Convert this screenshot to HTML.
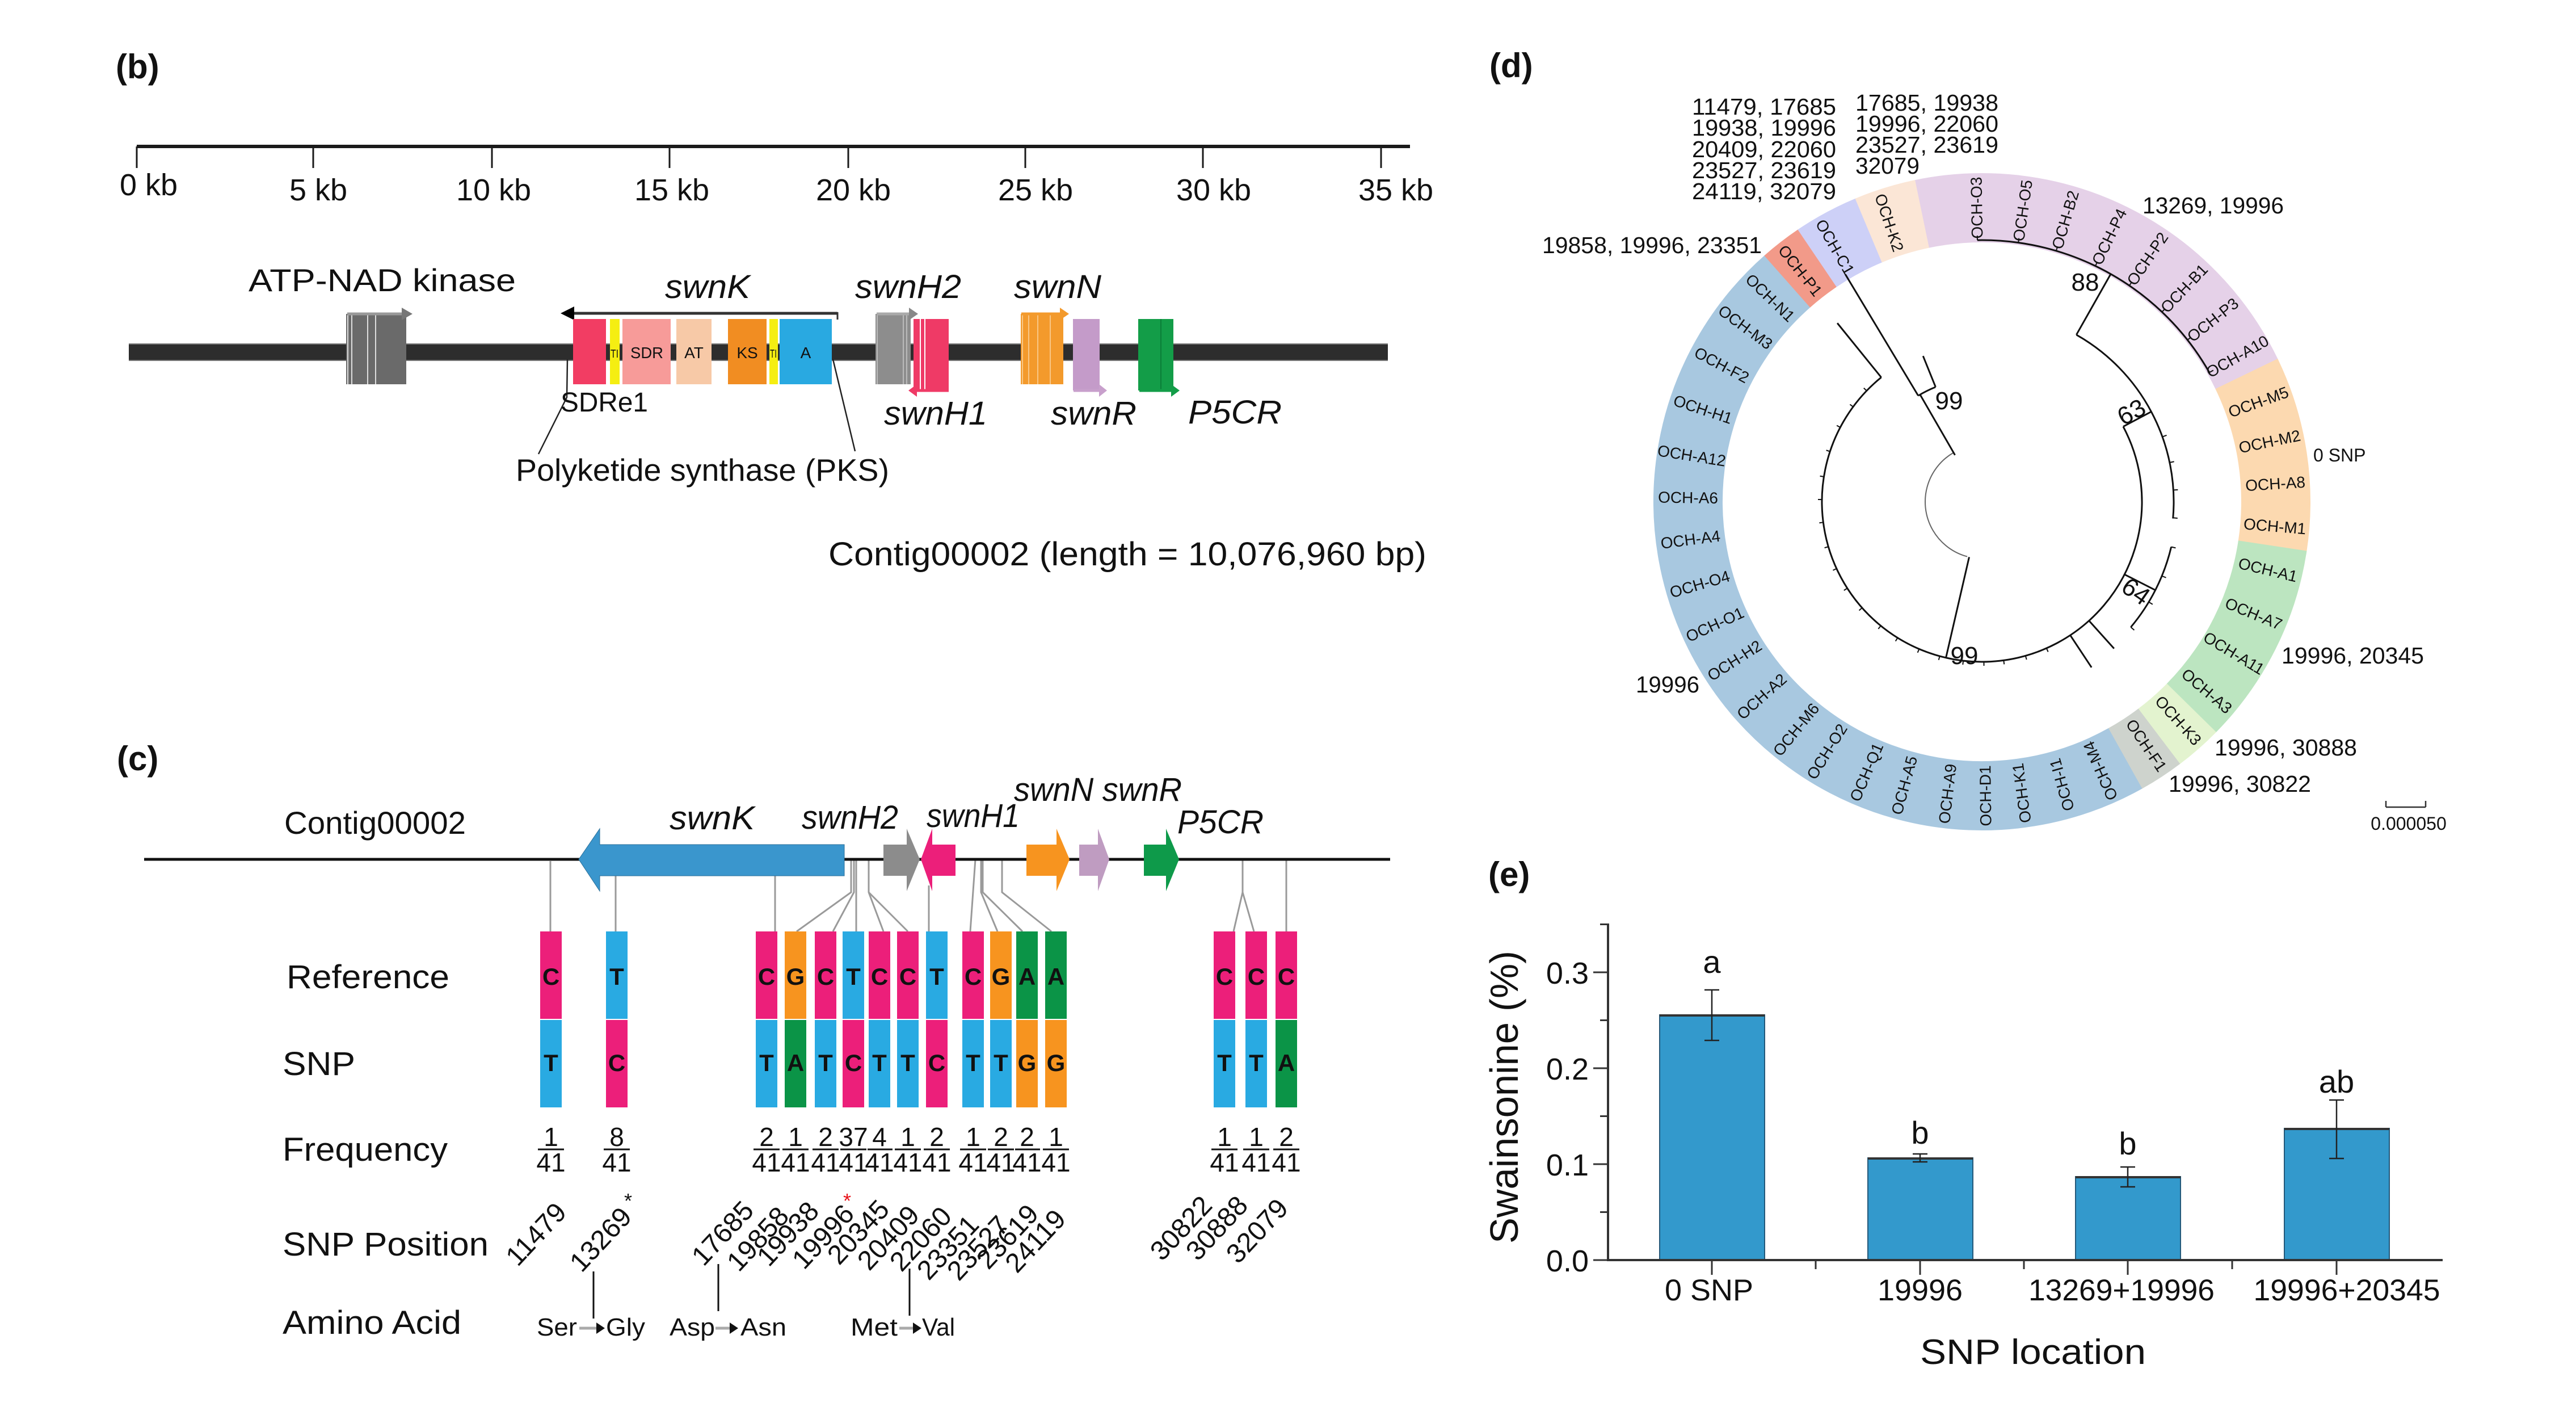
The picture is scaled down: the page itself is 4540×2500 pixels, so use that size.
<!DOCTYPE html>
<html><head><meta charset="utf-8"><style>
html,body{margin:0;padding:0;background:#fff;}
svg{display:block;}
text{font-family:"Liberation Sans",Arial,sans-serif;fill:#111;}
</style></head><body>
<svg xmlns="http://www.w3.org/2000/svg" width="4540" height="2500" viewBox="0 0 4540 2500">
<rect width="4540" height="2500" fill="#fff"/>

<!-- ================= PANEL B ================= -->
<text x="204" y="138" font-size="60" font-weight="bold">(b)</text>
<line x1="241" y1="258" x2="2485" y2="258" stroke="#1a1a1a" stroke-width="6"/>
<g stroke="#1a1a1a" stroke-width="3">
<line x1="241" y1="258" x2="241" y2="296"/><line x1="552" y1="258" x2="552" y2="296"/>
<line x1="867" y1="258" x2="867" y2="296"/><line x1="1180" y1="258" x2="1180" y2="296"/>
<line x1="1495" y1="258" x2="1495" y2="296"/><line x1="1807" y1="258" x2="1807" y2="296"/>
<line x1="2120" y1="258" x2="2120" y2="296"/><line x1="2434" y1="258" x2="2434" y2="296"/>
</g>
<g font-size="54" text-anchor="middle">
<text x="262" y="344">0 kb</text><text x="561" y="353">5 kb</text>
<text x="870" y="353">10 kb</text><text x="1184" y="353">15 kb</text>
<text x="1504" y="353">20 kb</text><text x="1825" y="353">25 kb</text>
<text x="2139" y="353">30 kb</text><text x="2460" y="353">35 kb</text>
</g>
<!-- track -->
<rect x="227" y="606" width="2219" height="29" fill="#2d2d2d"/>
<line x1="227" y1="606" x2="2446" y2="606" stroke="#777" stroke-width="2"/>
<line x1="227" y1="635" x2="2446" y2="635" stroke="#777" stroke-width="2"/>
<!-- ATP-NAD kinase block -->
<rect x="610" y="553" width="106" height="124" fill="#6a6a6a"/>
<g stroke="#ddd" stroke-width="2"><line x1="613" y1="553" x2="613" y2="677"/><line x1="620" y1="553" x2="620" y2="677"/><line x1="648" y1="553" x2="648" y2="677"/><line x1="662" y1="553" x2="662" y2="677"/></g>
<line x1="612" y1="553" x2="710" y2="553" stroke="#999" stroke-width="5"/>
<polygon points="708,542 727,553 708,564" fill="#777"/>
<!-- PKS swnK -->
<line x1="1010" y1="552" x2="1476" y2="552" stroke="#333" stroke-width="5"/>
<polygon points="1012,540 988,552 1012,564" fill="#000"/>
<line x1="1476" y1="550" x2="1476" y2="563" stroke="#333" stroke-width="3"/>
<rect x="1010" y="562" width="58" height="115" fill="#f23d63"/>
<rect x="1075" y="562" width="17" height="115" fill="#f5ee12"/>
<rect x="1097" y="562" width="85" height="115" fill="#f79b99"/>
<rect x="1192" y="562" width="62" height="115" fill="#f7c9a7"/>
<rect x="1283" y="562" width="68" height="115" fill="#f18d22"/>
<rect x="1356" y="562" width="15" height="115" fill="#f5ee12"/>
<rect x="1374" y="562" width="92" height="115" fill="#29a9e1"/>
<g font-size="28" text-anchor="middle" fill="#333">
<text x="1083" y="630" font-size="20" textLength="14" lengthAdjust="spacingAndGlyphs">TI</text>
<text x="1140" y="631" textLength="58" lengthAdjust="spacingAndGlyphs">SDR</text>
<text x="1223" y="631">AT</text>
<text x="1317" y="631">KS</text>
<text x="1363" y="630" font-size="20" textLength="12" lengthAdjust="spacingAndGlyphs">TI</text>
<text x="1420" y="631">A</text>
</g>
<!-- swnH2 gray -->
<rect x="1543" y="553" width="62" height="124" fill="#8d8d8d"/>
<g stroke="#bbb" stroke-width="2"><line x1="1546" y1="553" x2="1546" y2="677"/><line x1="1592" y1="553" x2="1592" y2="677"/><line x1="1598" y1="553" x2="1598" y2="677"/></g>
<line x1="1545" y1="553" x2="1605" y2="553" stroke="#aaa" stroke-width="5"/>
<polygon points="1602,542 1618,553 1602,564" fill="#888"/>
<!-- swnH1 red -->
<rect x="1610" y="562" width="62" height="126" fill="#ef3a66"/>
<g stroke="#fff" stroke-width="2"><line x1="1622" y1="562" x2="1622" y2="688"/><line x1="1630" y1="562" x2="1630" y2="688"/></g>
<line x1="1612" y1="688" x2="1672" y2="688" stroke="#ef3a66" stroke-width="5"/>
<polygon points="1616,677 1601,688 1616,699" fill="#ef3a66"/>
<!-- swnN orange -->
<rect x="1799" y="553" width="75" height="124" fill="#f39a2c"/>
<g stroke="#f9c685" stroke-width="2"><line x1="1802" y1="553" x2="1802" y2="677"/><line x1="1813" y1="553" x2="1813" y2="677"/><line x1="1829" y1="553" x2="1829" y2="677"/><line x1="1851" y1="553" x2="1851" y2="677"/></g>
<line x1="1800" y1="553" x2="1870" y2="553" stroke="#f39a2c" stroke-width="5"/>
<polygon points="1868,542 1884,553 1868,564" fill="#f39a2c"/>
<!-- swnR purple -->
<rect x="1891" y="562" width="47" height="126" fill="#c49bc9"/>
<line x1="1892" y1="688" x2="1940" y2="688" stroke="#c8a0cc" stroke-width="5"/>
<polygon points="1937,677 1951,688 1937,699" fill="#c8a0cc"/>
<!-- P5CR green -->
<rect x="2006" y="562" width="62" height="126" fill="#139d48"/>
<line x1="2046" y1="562" x2="2046" y2="688" stroke="#0b7d38" stroke-width="2"/>
<line x1="2008" y1="688" x2="2066" y2="688" stroke="#139d48" stroke-width="5"/>
<polygon points="2064,677 2079,688 2064,699" fill="#139d48"/>
<!-- SDRe1 lines -->
<polyline points="1000,633 999,700 949,800" fill="none" stroke="#222" stroke-width="2.5"/>
<polyline points="1468,633 1507,795" fill="none" stroke="#222" stroke-width="2.5"/>
<!-- labels -->
<text x="438" y="513" font-size="56" textLength="471" lengthAdjust="spacingAndGlyphs">ATP-NAD kinase</text>
<g font-style="italic" font-size="58">
<text x="1172" y="525" textLength="150" lengthAdjust="spacingAndGlyphs">swnK</text>
<text x="1507" y="525" textLength="187" lengthAdjust="spacingAndGlyphs">swnH2</text>
<text x="1787" y="525" textLength="154" lengthAdjust="spacingAndGlyphs">swnN</text>
<text x="1558" y="748" textLength="182" lengthAdjust="spacingAndGlyphs">swnH1</text>
<text x="1852" y="748" textLength="151" lengthAdjust="spacingAndGlyphs">swnR</text>
<text x="2094" y="746" textLength="165" lengthAdjust="spacingAndGlyphs">P5CR</text>
</g>
<text x="988" y="725" font-size="48" textLength="154" lengthAdjust="spacingAndGlyphs">SDRe1</text>
<text x="909" y="847" font-size="55" textLength="658" lengthAdjust="spacingAndGlyphs">Polyketide synthase (PKS)</text>
<text x="1460" y="996" font-size="58" textLength="1054" lengthAdjust="spacingAndGlyphs">Contig00002 (length = 10,076,960 bp)</text>

<!-- ================= PANEL C ================= -->
<text x="206" y="1357" font-size="60" font-weight="bold">(c)</text>
<text x="501" y="1469" font-size="56" textLength="320" lengthAdjust="spacingAndGlyphs">Contig00002</text>
<!-- connector lines -->
<g stroke="#9a9a9a" stroke-width="3" fill="none">
<line x1="970" y1="1517" x2="970" y2="1641"/>
<line x1="1085" y1="1543" x2="1085" y2="1641"/>
<line x1="1366" y1="1543" x2="1366" y2="1641"/>
<polyline points="1500,1514 1500,1572 1404,1641"/>
<polyline points="1505,1514 1505,1572 1468,1641"/>
<line x1="1509" y1="1514" x2="1509" y2="1641"/>
<polyline points="1531,1514 1531,1572 1557,1641"/>
<polyline points="1531,1572 1600,1641"/>
<line x1="1637" y1="1560" x2="1637" y2="1641"/>
<polyline points="1719,1514 1710,1641"/>
<polyline points="1729,1514 1729,1572 1758,1641"/>
<polyline points="1732,1514 1732,1572 1802,1641"/>
<polyline points="1766,1514 1766,1572 1853,1641"/>
<polyline points="2190,1514 2190,1572 2174,1641"/>
<polyline points="2190,1572 2210,1641"/>
<line x1="2267" y1="1514" x2="2267" y2="1641"/>
</g>
<line x1="254" y1="1514" x2="2450" y2="1514" stroke="#111" stroke-width="5"/>
<polygon points="1020,1514 1057,1460 1057,1488 1488,1488 1488,1543 1057,1543 1057,1570" fill="#3a96cd" stroke="#2a6f99" stroke-width="1"/>
<polygon points="1557,1488 1598,1488 1598,1460 1621,1514 1598,1570 1598,1543 1557,1543" fill="#8c8c8c"/>
<polygon points="1623,1514 1643,1460 1643,1488 1684,1488 1684,1543 1643,1543 1643,1570" fill="#ec1f7a"/>
<polygon points="1809,1488 1862,1488 1862,1460 1885,1514 1862,1570 1862,1543 1809,1543" fill="#f7941f"/>
<polygon points="1902,1488 1935,1488 1935,1460 1955,1514 1935,1570 1935,1543 1902,1543" fill="#bf9cc1"/>
<polygon points="2016,1488 2055,1488 2055,1460 2078,1514 2055,1570 2055,1543 2016,1543" fill="#0e9a4a"/>
<g font-style="italic" font-size="58">
<text x="1180" y="1461" textLength="150" lengthAdjust="spacingAndGlyphs">swnK</text>
<text x="1413" y="1460" textLength="170" lengthAdjust="spacingAndGlyphs">swnH2</text>
<text x="1633" y="1457" textLength="164" lengthAdjust="spacingAndGlyphs">swnH1</text>
<text x="1787" y="1411" textLength="296" lengthAdjust="spacingAndGlyphs">swnN swnR</text>
<text x="2075" y="1468" textLength="152" lengthAdjust="spacingAndGlyphs">P5CR</text>
</g>
<g font-size="58">
<text x="505" y="1741" textLength="287" lengthAdjust="spacingAndGlyphs">Reference</text>
<text x="498" y="1894" textLength="128" lengthAdjust="spacingAndGlyphs">SNP</text>
<text x="498" y="2045" textLength="291" lengthAdjust="spacingAndGlyphs">Frequency</text>
<text x="498" y="2212" textLength="363" lengthAdjust="spacingAndGlyphs">SNP Position</text>
<text x="498" y="2350" textLength="315" lengthAdjust="spacingAndGlyphs">Amino Acid</text>
</g>
<!-- boxes -->
<g>
<rect x="952" y="1641" width="38" height="154" fill="#ec1f7a"/><rect x="952" y="1797" width="38" height="154" fill="#29aae2"/>
<rect x="1068" y="1641" width="38" height="154" fill="#29aae2"/><rect x="1068" y="1797" width="38" height="154" fill="#ec1f7a"/>
<rect x="1332" y="1641" width="38" height="154" fill="#ec1f7a"/><rect x="1332" y="1797" width="38" height="154" fill="#29aae2"/>
<rect x="1383" y="1641" width="38" height="154" fill="#f7941f"/><rect x="1383" y="1797" width="38" height="154" fill="#0b9447"/>
<rect x="1436" y="1641" width="38" height="154" fill="#ec1f7a"/><rect x="1436" y="1797" width="38" height="154" fill="#29aae2"/>
<rect x="1485" y="1641" width="38" height="154" fill="#29aae2"/><rect x="1485" y="1797" width="38" height="154" fill="#ec1f7a"/>
<rect x="1531" y="1641" width="38" height="154" fill="#ec1f7a"/><rect x="1531" y="1797" width="38" height="154" fill="#29aae2"/>
<rect x="1581" y="1641" width="38" height="154" fill="#ec1f7a"/><rect x="1581" y="1797" width="38" height="154" fill="#29aae2"/>
<rect x="1632" y="1641" width="38" height="154" fill="#29aae2"/><rect x="1632" y="1797" width="38" height="154" fill="#ec1f7a"/>
<rect x="1696" y="1641" width="38" height="154" fill="#ec1f7a"/><rect x="1696" y="1797" width="38" height="154" fill="#29aae2"/>
<rect x="1745" y="1641" width="38" height="154" fill="#f7941f"/><rect x="1745" y="1797" width="38" height="154" fill="#29aae2"/>
<rect x="1791" y="1641" width="38" height="154" fill="#0b9447"/><rect x="1791" y="1797" width="38" height="154" fill="#f7941f"/>
<rect x="1842" y="1641" width="38" height="154" fill="#0b9447"/><rect x="1842" y="1797" width="38" height="154" fill="#f7941f"/>
<rect x="2139" y="1641" width="38" height="154" fill="#ec1f7a"/><rect x="2139" y="1797" width="38" height="154" fill="#29aae2"/>
<rect x="2195" y="1641" width="38" height="154" fill="#ec1f7a"/><rect x="2195" y="1797" width="38" height="154" fill="#29aae2"/>
<rect x="2248" y="1641" width="38" height="154" fill="#ec1f7a"/><rect x="2248" y="1797" width="38" height="154" fill="#0b9447"/>
</g>
<g font-size="42" font-weight="bold" text-anchor="middle">
<text x="971" y="1735">C</text><text x="971" y="1887">T</text>
<text x="1087" y="1735">T</text><text x="1087" y="1887">C</text>
<text x="1351" y="1735">C</text><text x="1351" y="1887">T</text>
<text x="1402" y="1735">G</text><text x="1402" y="1887">A</text>
<text x="1455" y="1735">C</text><text x="1455" y="1887">T</text>
<text x="1504" y="1735">T</text><text x="1504" y="1887">C</text>
<text x="1550" y="1735">C</text><text x="1550" y="1887">T</text>
<text x="1600" y="1735">C</text><text x="1600" y="1887">T</text>
<text x="1651" y="1735">T</text><text x="1651" y="1887">C</text>
<text x="1715" y="1735">C</text><text x="1715" y="1887">T</text>
<text x="1764" y="1735">G</text><text x="1764" y="1887">T</text>
<text x="1810" y="1735">A</text><text x="1810" y="1887">G</text>
<text x="1861" y="1735">A</text><text x="1861" y="1887">G</text>
<text x="2158" y="1735">C</text><text x="2158" y="1887">T</text>
<text x="2214" y="1735">C</text><text x="2214" y="1887">T</text>
<text x="2267" y="1735">C</text><text x="2267" y="1887">A</text>
</g>
<!-- fractions -->
<g font-size="46" text-anchor="middle">
<text x="971" y="2019">1</text><text x="1087" y="2019">8</text>
<text x="1351" y="2019">2</text><text x="1402" y="2019">1</text><text x="1455" y="2019">2</text>
<text x="1504" y="2019">37</text><text x="1550" y="2019">4</text><text x="1600" y="2019">1</text>
<text x="1651" y="2019">2</text><text x="1715" y="2019">1</text><text x="1764" y="2019">2</text>
<text x="1810" y="2019">2</text><text x="1861" y="2019">1</text>
<text x="2158" y="2019">1</text><text x="2214" y="2019">1</text><text x="2267" y="2019">2</text>
<text x="971" y="2064">41</text><text x="1087" y="2064">41</text>
<text x="1351" y="2064">41</text><text x="1402" y="2064">41</text><text x="1455" y="2064">41</text>
<text x="1504" y="2064">41</text><text x="1550" y="2064">41</text><text x="1600" y="2064">41</text>
<text x="1651" y="2064">41</text><text x="1715" y="2064">41</text><text x="1764" y="2064">41</text>
<text x="1810" y="2064">41</text><text x="1861" y="2064">41</text>
<text x="2158" y="2064">41</text><text x="2214" y="2064">41</text><text x="2267" y="2064">41</text>
</g>
<g stroke="#111" stroke-width="3">
<line x1="948" y1="2025" x2="994" y2="2025"/><line x1="1064" y1="2025" x2="1110" y2="2025"/>
<line x1="1328" y1="2025" x2="1374" y2="2025"/><line x1="1379" y1="2025" x2="1425" y2="2025"/>
<line x1="1432" y1="2025" x2="1478" y2="2025"/><line x1="1481" y1="2025" x2="1527" y2="2025"/>
<line x1="1529" y1="2025" x2="1573" y2="2025"/><line x1="1577" y1="2025" x2="1623" y2="2025"/>
<line x1="1628" y1="2025" x2="1674" y2="2025"/><line x1="1692" y1="2025" x2="1738" y2="2025"/>
<line x1="1741" y1="2025" x2="1787" y2="2025"/><line x1="1789" y1="2025" x2="1833" y2="2025"/>
<line x1="1838" y1="2025" x2="1884" y2="2025"/>
<line x1="2135" y1="2025" x2="2181" y2="2025"/><line x1="2191" y1="2025" x2="2237" y2="2025"/>
<line x1="2244" y1="2025" x2="2290" y2="2025"/>
</g>
<!-- SNP positions -->
<g font-size="48" text-anchor="end">
<text transform="translate(1001,2138) rotate(-47)">11479</text>
<text transform="translate(1116,2146) rotate(-47)">13269</text>
<text transform="translate(1331,2135) rotate(-47)">17685</text>
<text transform="translate(1393,2145) rotate(-47)">19858</text>
<text transform="translate(1446,2136) rotate(-47)">19938</text>
<text transform="translate(1508,2141) rotate(-47)">19996</text>
<text transform="translate(1570,2133) rotate(-47)">20345</text>
<text transform="translate(1623,2143) rotate(-47)">20409</text>
<text transform="translate(1680,2145) rotate(-47)">22060</text>
<text transform="translate(1728,2160) rotate(-47)">23351</text>
<text transform="translate(1781,2161) rotate(-47)">23527</text>
<text transform="translate(1833,2141) rotate(-47)">23619</text>
<text transform="translate(1881,2150) rotate(-47)">24119</text>
<text transform="translate(2139,2126) rotate(-47)">30822</text>
<text transform="translate(2202,2126) rotate(-47)">30888</text>
<text transform="translate(2273,2131) rotate(-47)">32079</text>
</g>
<text x="1100" y="2128" font-size="36">*</text>
<text x="1486" y="2128" font-size="36" style="fill:#e8141b">*</text>
<!-- amino acid -->
<g stroke="#111" stroke-width="3">
<line x1="1046" y1="2240" x2="1046" y2="2323"/>
<line x1="1266" y1="2227" x2="1266" y2="2310"/>
<line x1="1603" y1="2235" x2="1603" y2="2318"/>
</g>
<g font-size="44">
<text x="946" y="2353" textLength="71" lengthAdjust="spacingAndGlyphs">Ser</text>
<text x="1068" y="2353" textLength="69" lengthAdjust="spacingAndGlyphs">Gly</text>
<text x="1180" y="2353" textLength="80" lengthAdjust="spacingAndGlyphs">Asp</text>
<text x="1305" y="2353" textLength="81" lengthAdjust="spacingAndGlyphs">Asn</text>
<text x="1499" y="2353" textLength="83" lengthAdjust="spacingAndGlyphs">Met</text>
<text x="1625" y="2353" textLength="58" lengthAdjust="spacingAndGlyphs">Val</text>
</g>
<g stroke="#aaa" stroke-width="5">
<line x1="1021" y1="2340" x2="1053" y2="2340"/>
<line x1="1261" y1="2340" x2="1288" y2="2340"/>
<line x1="1585" y1="2340" x2="1611" y2="2340"/>
</g>
<polygon points="1051,2330 1066,2340 1051,2350" fill="#111"/>
<polygon points="1286,2330 1301,2340 1286,2350" fill="#111"/>
<polygon points="1609,2330 1624,2340 1609,2350" fill="#111"/>

<!-- ================= PANEL D ================= -->
<text x="2625" y="136" font-size="60" font-weight="bold">(d)</text>
<g transform="translate(3493,884)">
  <!-- ring segments r=518 width 122 ; per degree 9.0408 -->
  <g fill="none" stroke-width="122">
    <circle r="518" stroke="#e5d1e8" stroke-dasharray="688 5000" transform="rotate(-101.8)"/>
    <circle r="518" stroke="#fcd9b0" stroke-dasharray="312 5000" transform="rotate(-25.8)"/>
    <circle r="518" stroke="#bce5c0" stroke-dasharray="325 5000" transform="rotate(8.6)"/>
    <circle r="518" stroke="#e3f3cf" stroke-dasharray="77 5000" transform="rotate(44.5)"/>
    <circle r="518" stroke="#ced3cd" stroke-dasharray="72 5000" transform="rotate(52.9)"/>
    <circle r="518" stroke="#a8c8e0" stroke-dasharray="1517 5000" transform="rotate(60.8)"/>
    <circle r="518" stroke="#f29a89" stroke-dasharray="68 5000" transform="rotate(228.5)"/>
    <circle r="518" stroke="#cdd0f7" stroke-dasharray="104 5000" transform="rotate(235.9)"/>
    <circle r="518" stroke="#fbe6d6" stroke-dasharray="99 5000" transform="rotate(247.3)"/>
  </g>
  <!-- tree -->
  <circle r="100" fill="none" stroke="#666" stroke-width="2" stroke-dasharray="235.6 5000" transform="rotate(105)"/>
  <g fill="none" stroke="#111" stroke-width="3">
    <circle r="218" stroke-dasharray="34.2 5000" transform="rotate(-121)"/>
    <circle r="282" stroke-dasharray="1274.8 5000" transform="rotate(-28)"/>
    <circle r="338" stroke-dasharray="386.4 5000" transform="rotate(-60.5)"/>
    <circle r="461" stroke-dasharray="494 5000" transform="rotate(-91)"/>
    <circle r="343" stroke-dasharray="159.8 5000" transform="rotate(13.4)"/>
    <line x1="0" y1="-95" x2="0" y2="-218" transform="rotate(-30)"/>
    <line x1="0" y1="-218" x2="0" y2="-467" transform="rotate(-31)"/>
    <line x1="0" y1="-218" x2="0" y2="-277" transform="rotate(-22)"/>
    <line x1="0" y1="-100" x2="0" y2="-282" transform="rotate(193)"/>
    <line x1="0" y1="-282" x2="0" y2="-405" transform="rotate(321)"/>
    <line x1="0" y1="-282" x2="0" y2="-338" transform="rotate(62)"/>
    <line x1="0" y1="-338" x2="0" y2="-461" transform="rotate(29.5)"/>
    <line x1="0" y1="-282" x2="0" y2="-343" transform="rotate(117)"/>
    <line x1="0" y1="-282" x2="0" y2="-348" transform="rotate(138)"/>
    <line x1="0" y1="-282" x2="0" y2="-350" transform="rotate(146.5)"/>
  </g>
  <g stroke="#111" stroke-width="2">
    <line y1="-461" y2="-469" transform="rotate(-1)"/><line y1="-461" y2="-469" transform="rotate(8)"/>
    <line y1="-461" y2="-469" transform="rotate(16.5)"/><line y1="-461" y2="-469" transform="rotate(25.7)"/>
    <line y1="-461" y2="-469" transform="rotate(34.3)"/><line y1="-461" y2="-469" transform="rotate(43.5)"/>
    <line y1="-461" y2="-469" transform="rotate(51.8)"/><line y1="-461" y2="-469" transform="rotate(60.4)"/>
    <line y1="-338" y2="-346" transform="rotate(70.2)"/><line y1="-338" y2="-346" transform="rotate(78.2)"/>
    <line y1="-338" y2="-346" transform="rotate(86.5)"/><line y1="-338" y2="-346" transform="rotate(94.8)"/>
    <line y1="-343" y2="-351" transform="rotate(103.4)"/><line y1="-343" y2="-351" transform="rotate(112.4)"/>
    <line y1="-343" y2="-351" transform="rotate(121)"/><line y1="-343" y2="-351" transform="rotate(130.1)"/>
    <line y1="-282" y2="-289" transform="rotate(156.2)"/><line y1="-282" y2="-289" transform="rotate(164.2)"/>
    <line y1="-282" y2="-289" transform="rotate(172.2)"/><line y1="-282" y2="-289" transform="rotate(179.3)"/>
    <line y1="-282" y2="-289" transform="rotate(186.7)"/><line y1="-282" y2="-289" transform="rotate(195.3)"/>
    <line y1="-282" y2="-289" transform="rotate(203.1)"/><line y1="-282" y2="-289" transform="rotate(211.8)"/>
    <line y1="-282" y2="-289" transform="rotate(219.2)"/><line y1="-282" y2="-289" transform="rotate(228.5)"/>
    <line y1="-282" y2="-289" transform="rotate(237.3)"/><line y1="-282" y2="-289" transform="rotate(245.3)"/>
    <line y1="-282" y2="-289" transform="rotate(253.7)"/><line y1="-282" y2="-289" transform="rotate(262.6)"/>
    <line y1="-282" y2="-289" transform="rotate(270.8)"/><line y1="-282" y2="-289" transform="rotate(279)"/>
    <line y1="-282" y2="-289" transform="rotate(288.3)"/><line y1="-282" y2="-289" transform="rotate(297.7)"/>
    <line y1="-282" y2="-289" transform="rotate(306.4)"/><line y1="-282" y2="-289" transform="rotate(313.9)"/>
  </g>
  <!-- bootstrap -->
  <g font-size="44" text-anchor="middle">
    <text x="-58" y="-163">99</text>
    <text x="-31" y="286">99</text>
    <text x="182" y="-372">88</text>
    <text transform="translate(263,-159) rotate(-28)" y="16">63</text>
    <text transform="translate(272,157) rotate(35)" y="16">64</text>
  </g>
  <!-- leaf labels -->
  <g font-size="28" text-anchor="middle" dominant-baseline="central">
    <text transform="rotate(-1) translate(0,-518) rotate(-90)">OCH-O3</text>
    <text transform="rotate(8) translate(0,-518) rotate(-90)">OCH-O5</text>
    <text transform="rotate(16.5) translate(0,-518) rotate(-90)">OCH-B2</text>
    <text transform="rotate(25.7) translate(0,-518) rotate(-90)">OCH-P4</text>
    <text transform="rotate(34.3) translate(0,-518) rotate(-90)">OCH-P2</text>
    <text transform="rotate(43.5) translate(0,-518) rotate(-90)">OCH-B1</text>
    <text transform="rotate(51.8) translate(0,-518) rotate(-90)">OCH-P3</text>
    <text transform="rotate(60.4) translate(0,-518) rotate(-90)">OCH-A10</text>
    <text transform="rotate(70.2) translate(0,-518) rotate(-90)">OCH-M5</text>
    <text transform="rotate(78.2) translate(0,-518) rotate(-90)">OCH-M2</text>
    <text transform="rotate(86.5) translate(0,-518) rotate(-90)">OCH-A8</text>
    <text transform="rotate(94.8) translate(0,-518) rotate(-90)">OCH-M1</text>
    <text transform="rotate(103.4) translate(0,-518) rotate(-90)">OCH-A1</text>
    <text transform="rotate(112.4) translate(0,-518) rotate(-90)">OCH-A7</text>
    <text transform="rotate(121) translate(0,-518) rotate(-90)">OCH-A11</text>
    <text transform="rotate(130.1) translate(0,-518) rotate(-90)">OCH-A3</text>
    <text transform="rotate(138.1) translate(0,-518) rotate(-90)">OCH-K3</text>
    <text transform="rotate(146) translate(0,-518) rotate(-90)">OCH-F1</text>
    <text transform="rotate(156.2) translate(0,-518) rotate(90)">OCH-M4</text>
    <text transform="rotate(164.2) translate(0,-518) rotate(90)">OCH-I1</text>
    <text transform="rotate(172.2) translate(0,-518) rotate(90)">OCH-K1</text>
    <text transform="rotate(179.3) translate(0,-518) rotate(90)">OCH-D1</text>
    <text transform="rotate(186.7) translate(0,-518) rotate(90)">OCH-A9</text>
    <text transform="rotate(195.3) translate(0,-518) rotate(90)">OCH-A5</text>
    <text transform="rotate(203.1) translate(0,-518) rotate(90)">OCH-Q1</text>
    <text transform="rotate(211.8) translate(0,-518) rotate(90)">OCH-O2</text>
    <text transform="rotate(219.2) translate(0,-518) rotate(90)">OCH-M6</text>
    <text transform="rotate(228.5) translate(0,-518) rotate(90)">OCH-A2</text>
    <text transform="rotate(237.3) translate(0,-518) rotate(90)">OCH-H2</text>
    <text transform="rotate(245.3) translate(0,-518) rotate(90)">OCH-O1</text>
    <text transform="rotate(253.7) translate(0,-518) rotate(90)">OCH-O4</text>
    <text transform="rotate(262.6) translate(0,-518) rotate(90)">OCH-A4</text>
    <text transform="rotate(270.8) translate(0,-518) rotate(90)">OCH-A6</text>
    <text transform="rotate(279) translate(0,-518) rotate(90)">OCH-A12</text>
    <text transform="rotate(288.3) translate(0,-518) rotate(90)">OCH-H1</text>
    <text transform="rotate(297.7) translate(0,-518) rotate(90)">OCH-F2</text>
    <text transform="rotate(306.4) translate(0,-518) rotate(90)">OCH-M3</text>
    <text transform="rotate(313.9) translate(0,-518) rotate(90)">OCH-N1</text>
    <text transform="rotate(321.8) translate(0,-518) rotate(90)">OCH-P1</text>
    <text transform="rotate(330) translate(0,-518) rotate(90)">OCH-C1</text>
    <text transform="rotate(341.6) translate(0,-518) rotate(90)">OCH-K2</text>
  </g>
</g>
<!-- annotations -->
<g font-size="41">
<text x="2982" y="202" textLength="254" lengthAdjust="spacingAndGlyphs">11479, 17685</text>
<text x="2982" y="239" textLength="254" lengthAdjust="spacingAndGlyphs">19938, 19996</text>
<text x="2982" y="277" textLength="254" lengthAdjust="spacingAndGlyphs">20409, 22060</text>
<text x="2982" y="314" textLength="254" lengthAdjust="spacingAndGlyphs">23527, 23619</text>
<text x="2982" y="351" textLength="254" lengthAdjust="spacingAndGlyphs">24119, 32079</text>
<text x="3270" y="195" textLength="252" lengthAdjust="spacingAndGlyphs">17685, 19938</text>
<text x="3270" y="232" textLength="252" lengthAdjust="spacingAndGlyphs">19996, 22060</text>
<text x="3270" y="269" textLength="252" lengthAdjust="spacingAndGlyphs">23527, 23619</text>
<text x="3270" y="306" textLength="113" lengthAdjust="spacingAndGlyphs">32079</text>
<text x="2718" y="446" textLength="387" lengthAdjust="spacingAndGlyphs">19858, 19996, 23351</text>
<text x="3776" y="376" textLength="249" lengthAdjust="spacingAndGlyphs">13269, 19996</text>
<text x="4021" y="1169" textLength="251" lengthAdjust="spacingAndGlyphs">19996, 20345</text>
<text x="3903" y="1331" textLength="251" lengthAdjust="spacingAndGlyphs">19996, 30888</text>
<text x="3822" y="1395" textLength="251" lengthAdjust="spacingAndGlyphs">19996, 30822</text>
<text x="2883" y="1220" textLength="112" lengthAdjust="spacingAndGlyphs">19996</text>
</g>
<text x="4077" y="813" font-size="32">0 SNP</text>
<g stroke="#333" stroke-width="2.5">
<line x1="4205" y1="1422" x2="4275" y2="1422"/>
<line x1="4205" y1="1411" x2="4205" y2="1422"/>
<line x1="4275" y1="1411" x2="4275" y2="1422"/>
</g>
<text x="4245" y="1462" font-size="32" text-anchor="middle">0.000050</text>

<!-- ================= PANEL E ================= -->
<text x="2623" y="1561" font-size="60" font-weight="bold">(e)</text>
<!-- bars -->
<g fill="#3399cc" stroke="#24597a" stroke-width="2">
<rect x="2925" y="1788" width="185" height="432"/>
<rect x="3292" y="2040" width="185" height="180"/>
<rect x="3658" y="2073" width="185" height="147"/>
<rect x="4026" y="1988" width="185" height="232"/>
</g>
<g stroke="#333" stroke-width="4">
<line x1="2925" y1="1789" x2="3110" y2="1789"/>
<line x1="3292" y1="2041" x2="3477" y2="2041"/>
<line x1="3658" y1="2074" x2="3843" y2="2074"/>
<line x1="4026" y1="1989" x2="4211" y2="1989"/>
</g>
<!-- error bars -->
<g stroke="#222" stroke-width="2.5">
<line x1="3017" y1="1744" x2="3017" y2="1833"/><line x1="3004" y1="1744" x2="3030" y2="1744"/><line x1="3004" y1="1833" x2="3030" y2="1833"/>
<line x1="3384" y1="2033" x2="3384" y2="2047"/><line x1="3371" y1="2033" x2="3397" y2="2033"/><line x1="3371" y1="2047" x2="3397" y2="2047"/>
<line x1="3750" y1="2056" x2="3750" y2="2091"/><line x1="3737" y1="2056" x2="3763" y2="2056"/><line x1="3737" y1="2091" x2="3763" y2="2091"/>
<line x1="4118" y1="1938" x2="4118" y2="2041"/><line x1="4105" y1="1938" x2="4131" y2="1938"/><line x1="4105" y1="2041" x2="4131" y2="2041"/>
</g>
<!-- axes -->
<g stroke="#333" stroke-width="4">
<line x1="2834" y1="1627" x2="2834" y2="2222"/>
<line x1="2832" y1="2220" x2="4305" y2="2220"/>
</g>
<g stroke="#333" stroke-width="3">
<line x1="2808" y1="2220" x2="2834" y2="2220"/><line x1="2808" y1="2051" x2="2834" y2="2051"/>
<line x1="2808" y1="1882" x2="2834" y2="1882"/><line x1="2808" y1="1713" x2="2834" y2="1713"/>
<line x1="2820" y1="2135.5" x2="2834" y2="2135.5"/><line x1="2820" y1="1966.5" x2="2834" y2="1966.5"/>
<line x1="2820" y1="1797.5" x2="2834" y2="1797.5"/><line x1="2820" y1="1628.5" x2="2834" y2="1628.5"/>
<line x1="3017" y1="2220" x2="3017" y2="2246"/><line x1="3384" y1="2220" x2="3384" y2="2246"/>
<line x1="3750" y1="2220" x2="3750" y2="2246"/><line x1="4118" y1="2220" x2="4118" y2="2246"/>
<line x1="3200" y1="2220" x2="3200" y2="2236"/><line x1="3567" y1="2220" x2="3567" y2="2236"/>
<line x1="3934" y1="2220" x2="3934" y2="2236"/>
</g>
<g font-size="54" text-anchor="end">
<text x="2800" y="2240">0.0</text><text x="2800" y="2071">0.1</text>
<text x="2800" y="1902">0.2</text><text x="2800" y="1733">0.3</text>
</g>
<g font-size="53" text-anchor="middle">
<text x="3012" y="2291" textLength="156" lengthAdjust="spacingAndGlyphs">0 SNP</text>
<text x="3384" y="2291" textLength="150" lengthAdjust="spacingAndGlyphs">19996</text>
<text x="3739" y="2291" textLength="328" lengthAdjust="spacingAndGlyphs">13269+19996</text>
<text x="4136" y="2291" textLength="329" lengthAdjust="spacingAndGlyphs">19996+20345</text>
</g>
<g font-size="56" text-anchor="middle">
<text x="3017" y="1714">a</text>
<text x="3384" y="2015">b</text>
<text x="3750" y="2034">b</text>
<text x="4118" y="1925">ab</text>
</g>
<text x="3583" y="2403" font-size="62" text-anchor="middle" textLength="398" lengthAdjust="spacingAndGlyphs">SNP location</text>
<text transform="translate(2675,1933) rotate(-90)" font-size="70" text-anchor="middle" textLength="516" lengthAdjust="spacingAndGlyphs">Swainsonine (%)</text>
</svg>
</body></html>
